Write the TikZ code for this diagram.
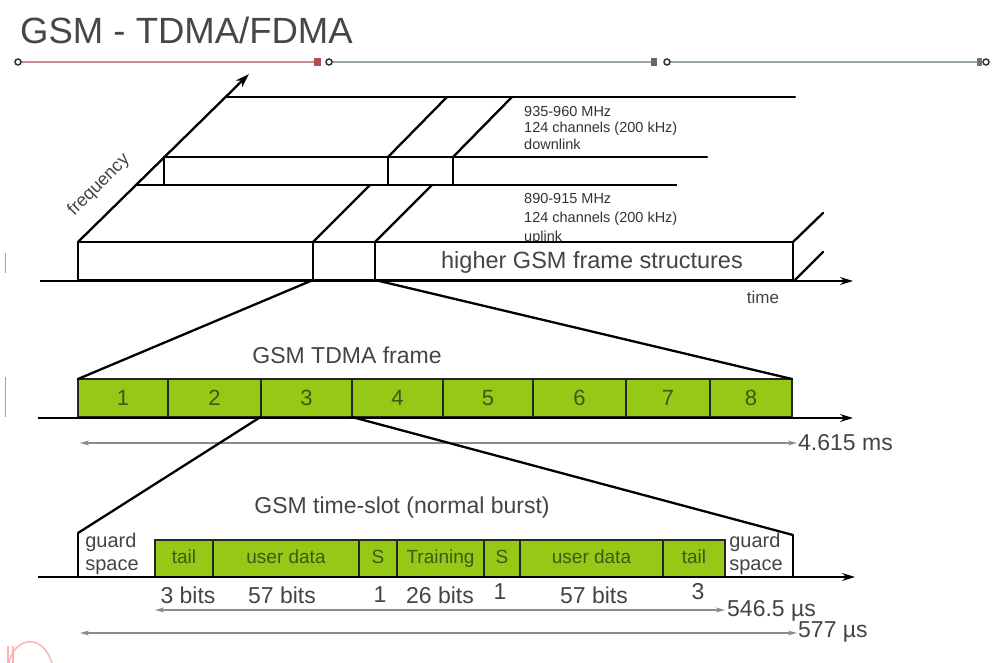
\documentclass[tikz,border=0pt]{standalone}
\usepackage{fontspec}
\setmainfont{Liberation Sans}
\usetikzlibrary{arrows.meta}
\definecolor{gsmgreen}{RGB}{152,200,22}
\definecolor{numgreen}{RGB}{62,88,22}
\definecolor{txtgray}{RGB}{68,68,68}
\definecolor{arrgray}{RGB}{140,140,140}
\definecolor{redline}{RGB}{200,140,145}
\definecolor{tealline}{RGB}{150,168,172}
\newcommand{\myfs}[2]{\fontsize{#1}{#2}\selectfont}
\begin{document}
\begin{tikzpicture}[x=1pt,y=-1pt,
  ln/.style={line width=2.3pt, black, line cap=round, line join=round},
  lnthin/.style={line width=1.5pt, black},
  axisarrow/.style={line width=1.5pt, black, -{Stealth[length=13pt,width=8pt]}},
  dimarrow/.style={arrgray, line width=1.6pt, {Stealth[length=9pt,width=5pt]}-{Stealth[length=9pt,width=5pt]}},
  frameslot/.style={draw=black!85, line width=2pt, fill=gsmgreen, text=numgreen, inner sep=0pt, outer sep=0pt, minimum height=38pt, text height=15pt, text depth=0pt, font=\myfs{22}{24}},
  burst/.style={draw=black!85, line width=2pt, fill=gsmgreen, text=numgreen, inner sep=0pt, outer sep=0pt, minimum height=37pt, text height=13pt, text depth=3pt, font=\myfs{19}{21}},
  lbl/.style={text=txtgray, inner sep=0pt},
  dot/.style={draw=black!80, line width=1.5pt, fill=white}
]
\useasboundingbox (0,0) rectangle (1001,663);

% title
\node[lbl, anchor=west, font=\myfs{36.5}{40}, text=black!72] (title) at (20,30) {GSM - TDMA/FDMA};

% top progress line
\draw[redline, line width=2pt] (18,62) -- (318,62);
\draw[tealline, line width=2pt] (329,62) -- (655,62);
\draw[tealline, line width=2pt] (667,62) -- (982,62);
\fill[red!60!black!70] (314,58) rectangle (321,66);
\fill[black!60] (651,58) rectangle (657,66);
\fill[tealline!70!black] (977,58) rectangle (982,66);
\draw[dot] (18,62) circle[radius=3pt];
\draw[dot] (329,62) circle[radius=3pt];
\draw[dot] (667,62) circle[radius=3pt];
\draw[dot] (986,62) circle[radius=3pt];

% stray marks
\draw[black!35, line width=1pt] (5,253) -- (5,273);
\draw[black!35, line width=1pt] (5,377) -- (5,417);
\draw[red!30, line width=1.5pt] (9,663) .. controls (12,642) and (40,628) .. (52,663);
\draw[red!30, line width=1.2pt] (8,646) -- (8,663) (13,646) -- (13,663);

% ---------- frequency / time sketch ----------
\coordinate (fo) at (78,242);
\coordinate (ft) at (249,74);
\draw[ln, -{Stealth[length=14pt,width=9pt]}] (fo) -- (ft);
\node[lbl, rotate=45, font=\myfs{18}{20}] (freq) at (99,185) {frequency};

% downlink band
\draw[ln] (227,97) -- (795,97);
\draw[ln] (164,157) -- (707,157);
\draw[lnthin] (136,185) -- (677,185);
\draw[ln] (164,157) -- (164,185);
\draw[lnthin] (388,157) -- (388,185);
\draw[lnthin] (453,157) -- (453,185);
\draw[ln] (388,157) -- (447,97);
\draw[ln] (453,157) -- (512,97);

% band labels
\node[lbl, anchor=west, align=left, text=black!80, font=\myfs{14.5}{16.5}] (dl) at (524,128) {935-960 MHz\\124 channels (200 kHz)\\downlink};
\node[lbl, anchor=west, align=left, text=black!80, font=\myfs{14.5}{19}] (ul) at (524,219) {890-915 MHz\\124 channels (200 kHz)\\uplink};

% uplink front box
\draw[ln, fill=white] (78,242) rectangle (793,280);
\draw[ln] (313,242) -- (313,280);
\draw[lnthin] (375,242) -- (375,280);
\draw[ln] (313,242) -- (370,185);
\draw[ln] (375,242) -- (432,185);
\draw[ln] (793,242) -- (823,213);
\draw[ln] (795,280) -- (823,252);
\coordinate (za) at (313,280);
\coordinate (zb) at (375,280);
\node[lbl, font=\myfs{23.5}{26}] (higher) at (592,262) {higher GSM frame structures};
\draw[axisarrow] (40,281) -- (853,281);
\node[lbl, font=\myfs{17}{20}] (time) at (763,297) {time};

% ---------- TDMA frame ----------
\node[lbl, font=\myfs{23}{26}] (tdmat) at (347,355) {GSM TDMA frame};
\foreach \c/\w/\n in {123/90/1, 214.5/93/2, 306.5/92/3, 397.5/91/4, 488/90/5, 579.5/93/6, 668/84/7, 751/82/8}
  \node[frameslot, minimum width=\w] (s\n) at (\c,398) {\n};
\draw[ln] (za) -- (s1.north west);
\draw[ln] (zb) -- (s8.north east);
\draw[axisarrow] (38,418) -- (853,418);
\draw[dimarrow] (80,443) -- (797,443);
\node[lbl, anchor=west, font=\myfs{23}{26}] (t4615) at (798,443) {4.615 ms};

% ---------- time slot ----------
\node[lbl, font=\myfs{23}{26}] (slott) at (402,508) {GSM time-slot (normal burst)};
\node[burst, minimum width=58] (b1) at (184,558.5) {tail};
\node[burst, minimum width=146] (b2) at (286,558.5) {user data};
\node[burst, minimum width=38] (b3) at (378,558.5) {S};
\node[burst, minimum width=87] (b4) at (440.5,558.5) {Training};
\node[burst, minimum width=36] (b5) at (502,558.5) {S};
\node[burst, minimum width=143] (b6) at (591.5,558.5) {user data};
\node[burst, minimum width=62] (b7) at (694,558.5) {tail};

\coordinate (gl) at (78,533);
\coordinate (glb) at (78,577);
\coordinate (gr) at (793,535);
\coordinate (grb) at (793,577);
\draw[ln] (s3.south west) -- (gl);
\draw[lnthin] (gl) -- (glb);
\draw[ln] (s4.south west) -- (gr);
\draw[lnthin] (gr) -- (grb);
\node[lbl, align=left, font=\myfs{20}{23}] (gsl) at (112,554) {guard\\space};
\node[lbl, align=left, font=\myfs{20}{23}] (gsr) at (756,554) {guard\\space};
\draw[axisarrow] (38,577) -- (855,577);

% bit counts
\node[lbl, font=\myfs{23}{26}] (n1) at (188,595) {3 bits};
\node[lbl, font=\myfs{23}{26}] (n2) at (282,595) {57 bits};
\node[lbl, font=\myfs{23}{26}] (n3) at (380,595) {1};
\node[lbl, font=\myfs{23}{26}] (n4) at (440,595) {26 bits};
\node[lbl, font=\myfs{23}{26}] (n5) at (500,592) {1};
\node[lbl, font=\myfs{23}{26}] (n6) at (594,595) {57 bits};
\node[lbl, font=\myfs{23}{26}] (n7) at (698,592) {3};

\draw[dimarrow] (155,610) -- (725,610);
\node[lbl, anchor=west, font=\myfs{23}{26}] (t5465) at (727,611) {546.5 µs};
\draw[dimarrow] (80,633) -- (797,633);
\node[lbl, anchor=west, font=\myfs{23}{26}] (t577) at (798,632) {577 µs};
\end{tikzpicture}
\end{document}
